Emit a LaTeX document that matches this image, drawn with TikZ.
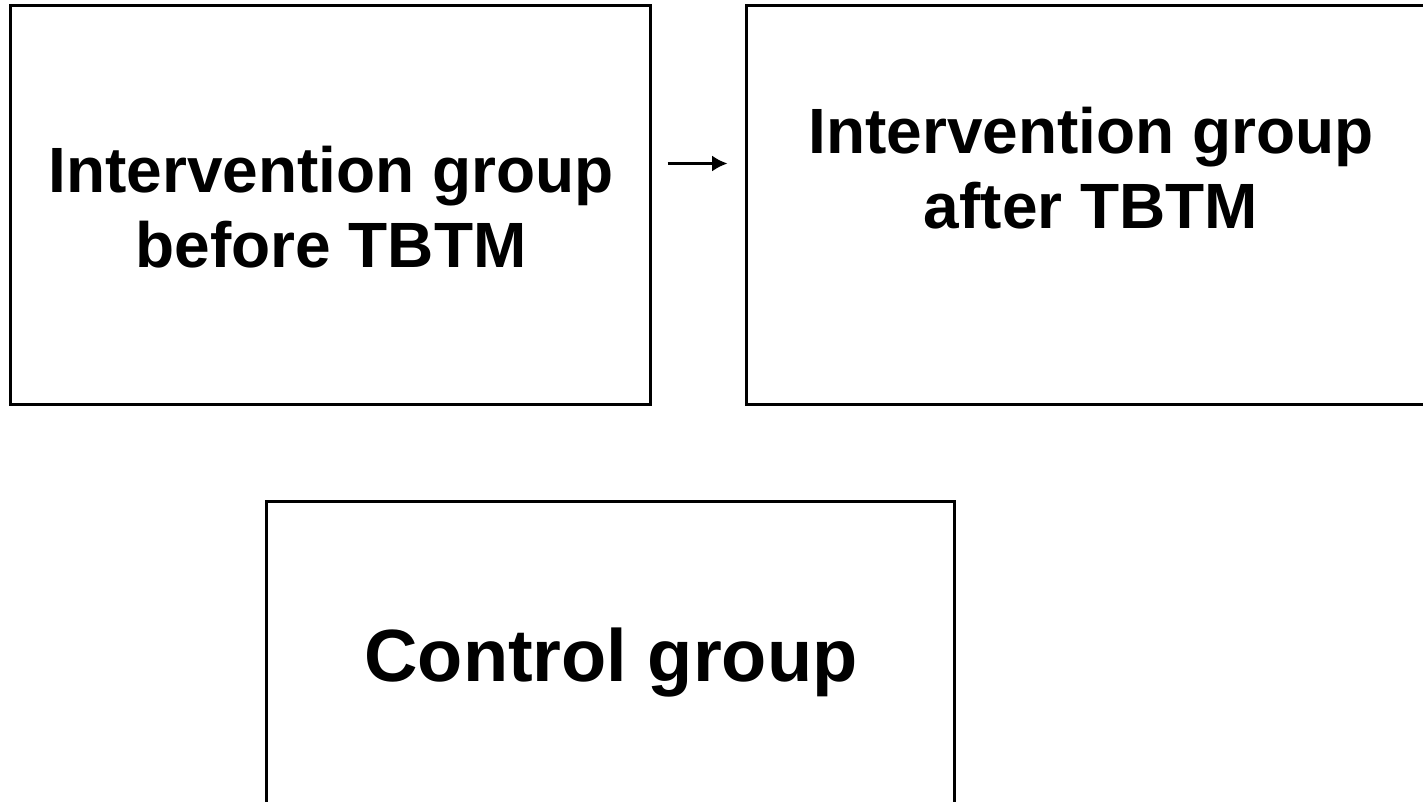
\documentclass[tikz,border=0pt]{standalone}
\usepackage{fontspec}
\setmainfont{Liberation Sans}
\usetikzlibrary{arrows.meta}

\tikzset{
    groupbox/.style={draw, line width=2.25pt, rectangle, inner sep=0pt},
    grouplabel/.style={font=\bfseries\fontsize{48}{56}\selectfont, align=center, anchor=base, inner sep=0pt},
    flowarrow/.style={-{Latex[length=11.5pt, width=12pt]}, line width=2pt}
}

\begin{document}
\begin{tikzpicture}[x=0.75pt, y=-0.75pt]
    \useasboundingbox (0, 0) rectangle (1423, 801);
    \clip (0, 0) rectangle (1423, 801);

    % Draw the three group boxes
    \node[groupbox, minimum width=640*0.75pt, minimum height=399*0.75pt] (before) at (330, 204.5) {}; % intervention before
    \node[groupbox, minimum width=690*0.75pt, minimum height=399*0.75pt] (after) at (1091, 204.5) {}; % intervention after
    \node[groupbox, minimum width=688*0.75pt, minimum height=400*0.75pt] (control) at (610, 701) {}; % control

    % Draw the labels (base is the last line)
    \node[grouplabel] (beforetext) at (331, 267) {Intervention group\\before TBTM};
    \node[grouplabel] (aftertext) at (1091, 228) {Intervention group\\after TBTM};
    \node[grouplabel, font=\bfseries\fontsize{55.5}{64}\selectfont] (controltext) at (611, 681) {Control group};

    % Draw the arrow between the intervention boxes
    \draw[flowarrow] ([shift={(16, -41)}]before.east) -- ([shift={(-17, -41)}]after.west);
\end{tikzpicture}
\end{document}
